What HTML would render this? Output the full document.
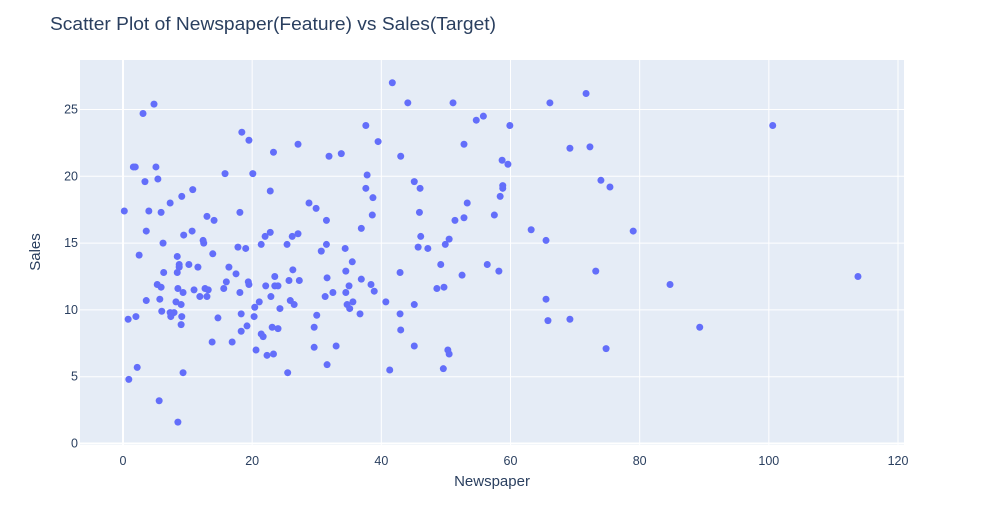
<!DOCTYPE html>
<html><head><meta charset="utf-8">
<style>
body{margin:0;background:#fff;font-family:"Liberation Sans",Arial,sans-serif;}
svg text{font-family:"Liberation Sans",Arial,sans-serif;fill:#2a3f5f;}
</style></head>
<body>
<svg id="chart" width="984" height="525">
  <rect x="0" y="0" width="984" height="525" fill="#fff"/>
  <text x="50" y="30" font-size="18" textLength="446" lengthAdjust="spacingAndGlyphs">Scatter Plot of Newspaper(Feature) vs Sales(Target)</text>
  <rect x="80" y="60" width="824" height="385" fill="#e5ecf6"/>
  <g id="grid"></g>
  <g id="points"></g>
  <text x="492" y="486" font-size="15" text-anchor="middle">Newspaper</text>
  <text x="40" y="252" font-size="15" text-anchor="middle" transform="rotate(-90 40 252)">Sales</text>
</svg>
<script>
const newspaper = [0.2,0.8,0.9,1.6,1.9,2.0,2.2,2.5,3.1,3.4,3.6,3.6,4.0,4.8,5.1,5.3,5.4,5.6,5.7,5.9,5.9,6.0,6.2,6.3,7.3,7.3,7.4,7.9,8.2,8.4,8.4,8.5,8.7,8.7,8.5,9.0,9.0,9.1,9.3,9.1,9.3,9.4,10.2,10.7,10.8,11.0,11.6,11.9,12.4,12.5,12.7,13.0,13.0,13.2,13.8,13.9,14.1,14.7,15.6,15.8,16.0,16.4,16.9,17.5,17.8,18.1,18.1,18.3,18.3,18.4,19.0,19.2,19.4,19.5,19.5,20.1,20.3,20.4,20.6,21.1,21.4,21.7,21.4,22.0,22.1,22.3,22.8,22.8,22.9,23.1,23.3,23.3,23.5,23.5,24.0,24.0,24.3,25.4,25.5,25.7,25.9,26.2,26.3,26.5,27.1,27.1,27.3,28.8,29.6,29.6,29.9,30.0,30.7,31.3,31.5,31.5,31.6,31.6,31.9,32.5,33.0,33.8,34.4,34.5,34.5,34.7,35.0,35.1,35.5,35.6,36.7,36.9,36.9,37.6,37.6,37.8,38.4,38.6,38.7,38.9,39.5,40.7,41.3,41.7,42.9,43.0,42.9,43.0,44.1,45.1,45.1,45.1,45.7,45.9,46.0,46.1,47.2,48.6,49.2,49.6,49.7,49.9,50.3,50.5,50.5,51.1,51.4,52.5,52.8,52.8,53.3,54.7,55.8,56.4,57.5,58.2,58.4,58.7,58.8,58.8,59.6,59.9,63.2,65.5,65.5,65.8,66.1,69.2,69.2,71.7,72.3,73.2,74.0,74.8,75.4,79.0,84.7,89.3,100.6,113.8];
const sales = [17.4,9.3,4.8,20.7,20.7,9.5,5.7,14.1,24.7,19.6,15.9,10.7,17.4,25.4,20.7,11.9,19.8,3.2,10.8,11.7,17.3,9.9,15.0,12.8,18.0,9.8,9.5,9.8,10.6,12.8,14.0,11.6,13.4,13.2,1.6,10.4,8.9,18.5,5.3,9.5,11.3,15.6,13.4,15.9,19.0,11.5,13.2,11.0,15.2,15.0,11.6,11.0,17.0,11.5,7.6,14.2,16.7,9.4,11.6,20.2,12.1,13.2,7.6,12.7,14.7,17.3,11.3,9.7,8.4,23.3,14.6,8.8,12.1,22.7,11.9,20.2,9.5,10.2,7.0,10.6,8.2,8.0,14.9,15.5,11.8,6.6,15.8,18.9,11.0,8.7,21.8,6.7,11.8,12.5,11.8,8.6,10.1,14.9,5.3,12.2,10.7,15.5,13.0,10.4,22.4,15.7,12.2,18.0,7.2,8.7,17.6,9.6,14.4,11.0,14.9,16.7,5.9,12.4,21.5,11.3,7.3,21.7,14.6,12.9,11.3,10.4,11.8,10.1,13.6,10.6,9.7,16.1,12.3,23.8,19.1,20.1,11.9,17.1,18.4,11.4,22.6,10.6,5.5,27.0,9.7,8.5,12.8,21.5,25.5,10.4,7.3,19.6,14.7,17.3,19.1,15.5,14.6,11.6,13.4,5.6,11.7,14.9,7.0,15.3,6.7,25.5,16.7,12.6,22.4,16.9,18.0,24.2,24.5,13.4,17.1,12.9,18.5,21.2,19.3,19.1,20.9,23.8,16.0,15.2,10.8,9.2,25.5,22.1,9.3,26.2,22.2,12.9,19.7,7.1,19.2,15.9,11.9,8.7,23.8,12.5];
const xTicks = [0,20,40,60,80,100,120];
const yTicks = [0,5,10,15,20,25];

const NS = 'http://www.w3.org/2000/svg';
function xs(v){ return 123 + v * (898 - 123) / 120; }
function ys(v){ return 443.5 - v * (443.5 - 109.5) / 25; }
const grid = document.getElementById('grid');
const pts = document.getElementById('points');
const svg = document.getElementById('chart');
xTicks.forEach(t => {
  const l = document.createElementNS(NS, 'line');
  l.setAttribute('x1', xs(t)); l.setAttribute('x2', xs(t));
  l.setAttribute('y1', 60); l.setAttribute('y2', 445);
  l.setAttribute('stroke', '#fff'); l.setAttribute('stroke-width', t === 0 ? 2 : 1);
  
  
  grid.appendChild(l);
  const tx = document.createElementNS(NS, 'text');
  tx.setAttribute('x', xs(t)); tx.setAttribute('y', 465);
  tx.setAttribute('font-size', '12.5'); tx.setAttribute('text-anchor', 'middle');
  tx.textContent = t;
  
  
  svg.appendChild(tx);
});
yTicks.forEach(t => {
  const l = document.createElementNS(NS, 'line');
  l.setAttribute('x1', 80); l.setAttribute('x2', 904);
  l.setAttribute('y1', ys(t)); l.setAttribute('y2', ys(t));
  l.setAttribute('stroke', '#fff'); l.setAttribute('stroke-width', t === 0 ? 2 : 1);
  
  
  grid.appendChild(l);
  const tx = document.createElementNS(NS, 'text');
  tx.setAttribute('x', 78); tx.setAttribute('y', ys(t) + 4);
  tx.setAttribute('font-size', '12.5'); tx.setAttribute('text-anchor', 'end');
  tx.textContent = t;
  
  
  svg.appendChild(tx);
});
newspaper.forEach((n, i) => {
  const c = document.createElementNS(NS, 'circle');
  c.setAttribute('cx', xs(n)); c.setAttribute('cy', ys(sales[i]));
  c.setAttribute('r', 3.5); c.setAttribute('fill', '#636efa');
  
  
  pts.appendChild(c);
});
</script>
</body></html>
